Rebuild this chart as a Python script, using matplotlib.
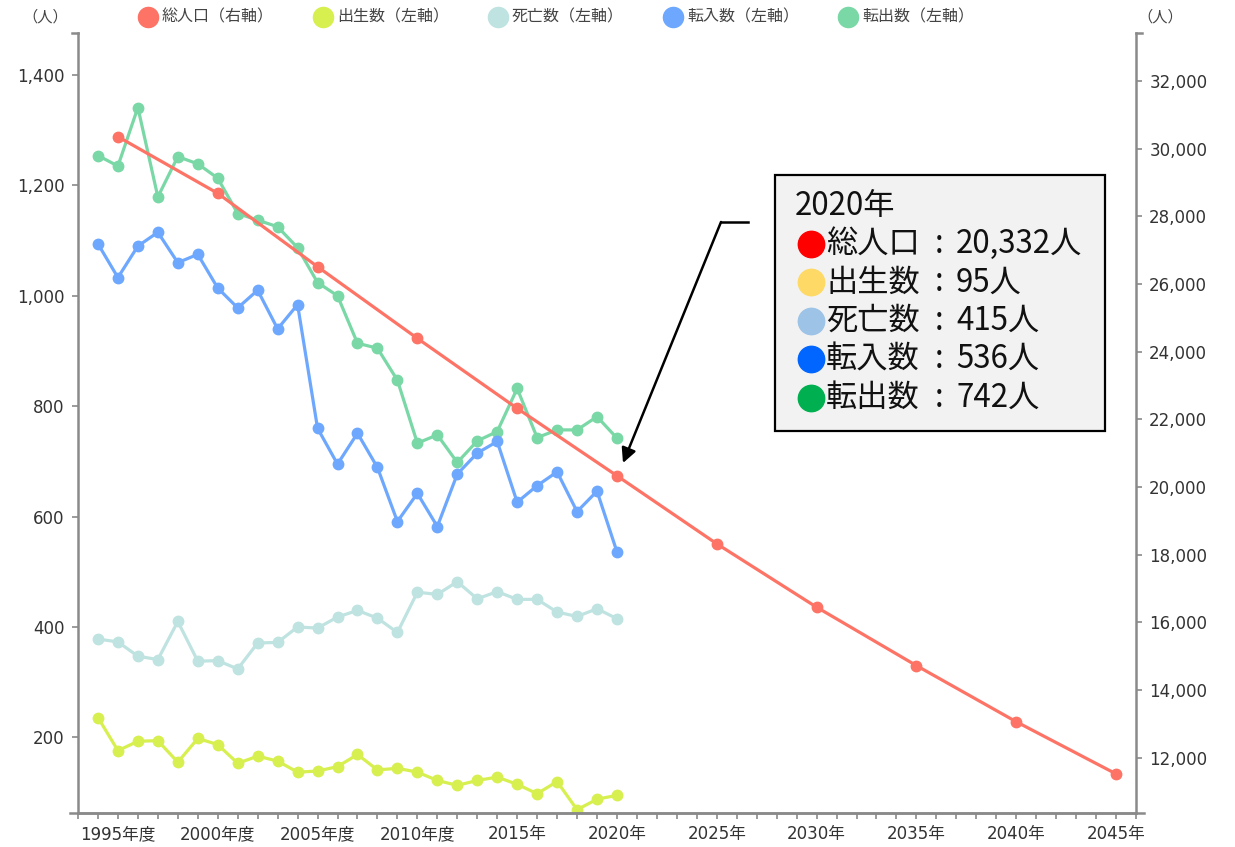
import matplotlib
matplotlib.use("Agg")
from matplotlib import pyplot as plt
from matplotlib.lines import Line2D
from matplotlib.patches import Rectangle, FancyArrowPatch
from matplotlib.ticker import FuncFormatter

plt.rcParams['font.family'] = ['DejaVu Sans', 'Noto Sans CJK JP']

# data
flow_years = list(range(1994, 2021))
births = [236, 176, 193, 194, 155, 198, 187, 153, 166, 157, 137, 139, 147, 169,
          141, 144, 137, 122, 113, 122, 128, 115, 98, 120, 69, 88, 95]
deaths = [378, 373, 347, 341, 410, 338, 339, 324, 371, 372, 400, 398, 418, 430,
          416, 390, 463, 459, 482, 451, 464, 450, 450, 427, 419, 433, 415]
moved_in = [1094, 1033, 1090, 1115, 1060, 1075, 1014, 978, 1010, 940, 984, 760,
            695, 751, 689, 591, 642, 582, 677, 715, 736, 626, 656, 681, 609, 646, 536]
moved_out = [1254, 1235, 1341, 1179, 1252, 1239, 1213, 1149, 1137, 1125, 1087, 1024,
             1000, 914, 905, 847, 733, 748, 698, 737, 754, 832, 743, 757, 757, 781, 742]
pop_years = [1995, 2000, 2005, 2010, 2015, 2020, 2025, 2030, 2035, 2040, 2045]
population = [30354, 28681, 26511, 24394, 22325, 20332, 18322, 16449, 14722, 13063, 11522]

label_years = [1995, 2000, 2005, 2010, 2015, 2020, 2025, 2030, 2035, 2040, 2045]
label_texts = ['1995年度', '2000年度', '2005年度', '2010年度', '2015年', '2020年',
               '2025年', '2030年', '2035年', '2040年', '2045年']

legend_names = ['総人口（右軸）', '出生数（左軸）', '死亡数（左軸）', '転入数（左軸）', '転出数（左軸）']
colors = ['#fd7466', '#d8ef50', '#bfe3e0', '#6ea8fe', '#79d8a6']

box_title = '2020年'
box_names = ['総人口', '出生数', '死亡数', '転入数', '転出数']
box_values = ['20,332人', '95人', '415人', '536人', '742人']
box_colors = ['#ff0000', '#ffd966', '#9dc3e6', '#0066ff', '#00b050']

W, H = 1235, 847


def fx(px):
    return px / W


def fy(py):
    return 1 - py / H


fig = plt.figure(figsize=(W / 100, H / 100), dpi=100)
ax = fig.add_axes([fx(78), fy(813), fx(1136) - fx(78), fy(33) - fy(813)])
ax2 = ax.twinx()

axis_gray = '#8a8a8a'
lab_col = '#333333'

style = dict(lw=2.3, marker='o', markersize=7.5, solid_capstyle='round')
ax.plot(flow_years, births, color=colors[1], **style)
ax.plot(flow_years, deaths, color=colors[2], **style)
ax.plot(flow_years, moved_out, color=colors[4], **style)
ax.plot(flow_years, moved_in, color=colors[3], **style)
ax2.plot(pop_years, population, color=colors[0], **style)

ax.set_xlim(1993, 2046)
ax.set_ylim(63, 1476)
ax2.set_ylim(10366, 33419)

ax.set_yticks(range(200, 1401, 200))
ax2.set_yticks(range(12000, 32001, 2000))
fmt = FuncFormatter(lambda v, p: f"{v:,.0f}")
ax.yaxis.set_major_formatter(fmt)
ax2.yaxis.set_major_formatter(fmt)

ax.set_xticks(list(range(1993, 2047)))
ax.set_xticklabels([label_texts[label_years.index(y)] if y in label_years else ''
                    for y in range(1993, 2047)])

for a in (ax, ax2):
    for s in a.spines.values():
        s.set_visible(False)
    a.tick_params(length=4.5, width=1.2, color=axis_gray, labelsize=12,
                  labelcolor=lab_col, pad=5)
    a.set_facecolor('none')
ax.spines['left'].set_visible(True)
ax.spines['bottom'].set_visible(True)
ax2.spines['right'].set_visible(True)
for s in (ax.spines['left'], ax.spines['bottom'], ax2.spines['right']):
    s.set_color(axis_gray)
    s.set_linewidth(1.8)
ax.tick_params(axis='x', pad=4)

# axis end hooks and bottom axis extension
for seg in ([(70, 813), (1144, 813)], [(72, 33), (78, 33)], [(1136, 33), (1142, 33)]):
    fig.add_artist(Line2D([fx(seg[0][0]), fx(seg[1][0])], [fy(seg[0][1]), fy(seg[1][1])],
                          color=axis_gray, lw=1.8, transform=fig.transFigure))

# unit labels
fig.text(fx(45), fy(17), '（人）', ha='center', va='center', fontsize=11,
         color='#444444', family=['Noto Sans CJK JP'])
fig.text(fx(1160), fy(17), '（人）', ha='center', va='center', fontsize=11,
         color='#444444', family=['Noto Sans CJK JP'])

# legend
for i, (name, c) in enumerate(zip(legend_names, colors)):
    cx = 148 + i * 175
    fig.add_artist(Line2D([fx(cx)], [fy(17)], marker='o', markersize=14.5, color=c,
                          linestyle='none', transform=fig.transFigure))
    fig.text(fx(cx + 14), fy(17), name, ha='left', va='center', fontsize=11.5,
             color='#444444', family=['Noto Sans CJK JP'])

# annotation box
fig.add_artist(Rectangle((fx(775), fy(431)), fx(1105) - fx(775), fy(175) - fy(431),
                         facecolor='#f2f2f2', edgecolor='black', lw=1.6,
                         transform=fig.transFigure))
box_font = dict(fontsize=22.5, color='#111111', family=['Noto Sans CJK JP'], va='center')
fig.text(fx(795), fy(206), box_title, ha='left', **box_font)
for i, (name, val, c) in enumerate(zip(box_names, box_values, box_colors)):
    yy = 244 + i * 38.4
    fig.add_artist(Line2D([fx(811)], [fy(yy)], marker='o', markersize=19, color=c,
                          linestyle='none', transform=fig.transFigure))
    fig.text(fx(826), fy(yy), name, ha='left', **box_font)
    fig.text(fx(939), fy(yy), ':', ha='center', **box_font)
    fig.text(fx(956), fy(yy), val, ha='left', **box_font)

# arrow
fig.add_artist(Line2D([fx(748), fx(721)], [fy(222), fy(222)], color='black', lw=1.8,
                      transform=fig.transFigure))
fig.add_artist(FancyArrowPatch((fx(721), fy(222)), (fx(623), fy(463)),
                               transform=fig.transFigure, arrowstyle='-|>',
                               mutation_scale=22, lw=1.8, color='black',
                               shrinkA=0, shrinkB=0))

fig.savefig('out.png', dpi=100)
